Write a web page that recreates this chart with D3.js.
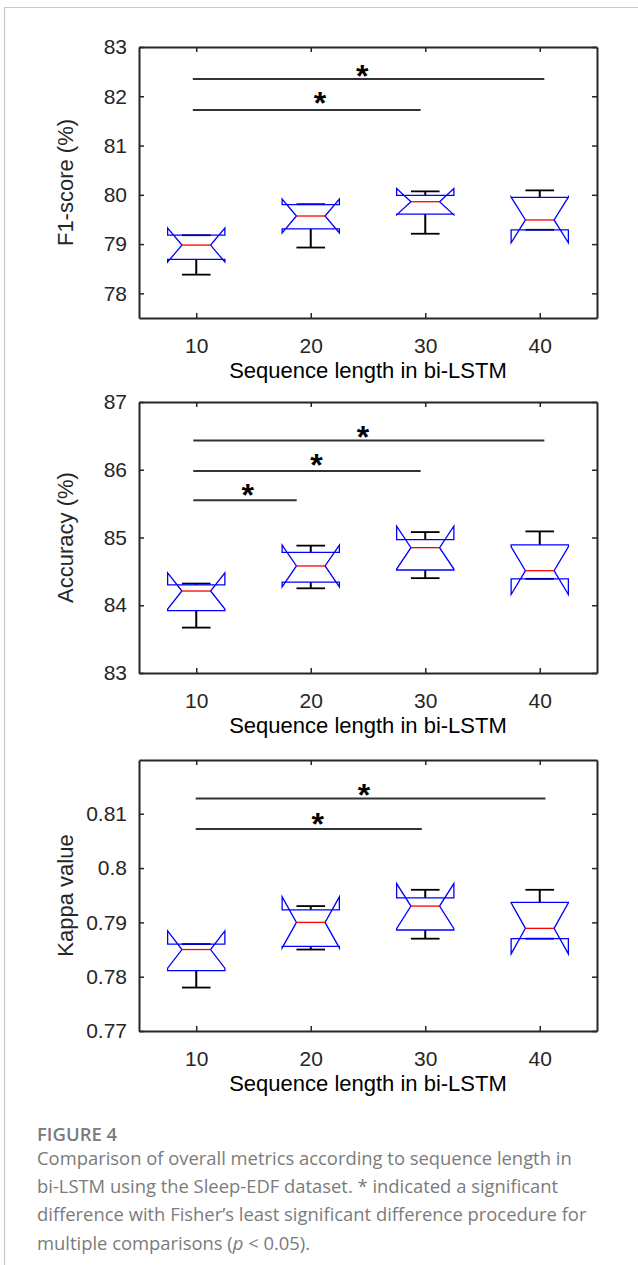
<!DOCTYPE html>
<html>
<head>
<meta charset="utf-8">
<script src="https://cdn.jsdelivr.net/npm/d3@7"></script>
<style>
  body { margin: 0; background: #fff; }
  svg { display: block; }
  .tick text { font-family: "Liberation Sans", Arial, sans-serif; font-size: 21px; fill: #262626; }
  .caption { font-family: "Open Sans", "Noto Sans", sans-serif; fill: #7b7b7b; }
</style>
</head>
<body>
<svg id="chart" width="638" height="1265"></svg>
<script>
// sequence lengths (box positions 1..4)
var categories = ["10", "20", "30", "40"];
var sampleCount = 5;   // folds per box, used for the notch width

// F1-score (%)
var f1Q1 = [78.69, 79.31, 79.61, 79.29];
var f1Median = [78.98, 79.57, 79.86, 79.49];
var f1Q3 = [79.18, 79.80, 79.99, 79.95];
var f1WhiskerLo = [78.38, 78.93, 79.21, 79.29];
var f1WhiskerHi = [79.18, 79.81, 80.07, 80.09];
var f1Ticks = [78, 79, 80, 81, 82, 83];
var f1SigFrom = [0.97, 0.97];
var f1SigTo = [4.04, 2.96];
var f1SigLevel = [82.35, 81.72];
var f1StarX = [2.45, 2.08];
var f1StarY = [82.56, 82.0];

// Accuracy (%)
var accQ1 = [83.92, 84.34, 84.52, 84.39];
var accMedian = [84.21, 84.58, 84.85, 84.51];
var accQ3 = [84.30, 84.78, 84.97, 84.89];
var accWhiskerLo = [83.67, 84.25, 84.40, 84.39];
var accWhiskerHi = [84.32, 84.88, 85.08, 85.09];
var accTicks = [83, 84, 85, 86, 87];
var accSigFrom = [0.974, 0.974, 0.974];
var accSigTo = [4.04, 2.96, 1.877];
var accSigLevel = [86.43, 85.98, 85.55];
var accStarX = [2.456, 2.05, 1.45];
var accStarY = [86.59, 86.17, 85.73];

// Kappa value
var kapQ1 = [0.7811, 0.7856, 0.7886, 0.7870];
var kapMedian = [0.7850, 0.7900, 0.7930, 0.7889];
var kapQ3 = [0.7860, 0.7923, 0.7945, 0.7937];
var kapWhiskerLo = [0.7780, 0.7850, 0.7870, 0.7870];
var kapWhiskerHi = [0.7860, 0.7930, 0.7960, 0.7960];
var kapTicks = [0.77, 0.78, 0.79, 0.8, 0.81];
var kapSigFrom = [0.995, 0.995];
var kapSigTo = [4.05, 2.97];
var kapSigLevel = [0.8128, 0.8072];
var kapStarX = [2.465, 2.06];
var kapStarY = [0.8148, 0.8094];

var captionLines = [
  "Comparison of overall metrics according to sequence length in",
  "bi-LSTM using the Sleep-EDF dataset. * indicated a significant",
  "difference with Fisher\u2019s least significant difference procedure for"
];

var svg = d3.select("#chart");

// card border
svg.append("path")
  .attr("d", "M4.5,1265V7.5H638")
  .attr("fill", "none")
  .attr("stroke", "#c9c9c9")
  .attr("stroke-width", 1.2);

var panels = [
  { top: 47, domain: [77.5, 83], ticks: f1Ticks, label: "F1-score (%)",
    q1: f1Q1, med: f1Median, q3: f1Q3, lo: f1WhiskerLo, hi: f1WhiskerHi,
    sigFrom: f1SigFrom, sigTo: f1SigTo, sigLevel: f1SigLevel, starX: f1StarX, starY: f1StarY },
  { top: 402, domain: [83, 87], ticks: accTicks, label: "Accuracy (%)",
    q1: accQ1, med: accMedian, q3: accQ3, lo: accWhiskerLo, hi: accWhiskerHi,
    sigFrom: accSigFrom, sigTo: accSigTo, sigLevel: accSigLevel, starX: accStarX, starY: accStarY },
  { top: 760, domain: [0.77, 0.8199], ticks: kapTicks, label: "Kappa value",
    q1: kapQ1, med: kapMedian, q3: kapQ3, lo: kapWhiskerLo, hi: kapWhiskerHi,
    sigFrom: kapSigFrom, sigTo: kapSigTo, sigLevel: kapSigLevel, starX: kapStarX, starY: kapStarY }
];

var left = 139, right = 597, plotH = 271;
var boxHalf = 0.25;

var x = d3.scaleLinear().domain([0.5, 4.5]).range([left, right]);
var positions = categories.map(function (c, i) { return i + 1; });

panels.forEach(function (p) {
  var y = d3.scaleLinear().domain(p.domain).range([p.top + plotH, p.top]);
  var g = svg.append("g");

  // axes, ticks pointing inward on all four sides
  var axes = [
    { ax: d3.axisBottom(x).tickValues(positions).tickFormat(function (d) { return categories[d - 1]; }).tickPadding(20), t: "translate(0," + (p.top + plotH) + ")" },
    { ax: d3.axisTop(x).tickValues(positions).tickFormat(""), t: "translate(0," + p.top + ")" },
    { ax: d3.axisLeft(y).tickValues(p.ticks).tickFormat(d3.format("")).tickPadding(12), t: "translate(" + left + ",0)" },
    { ax: d3.axisRight(y).tickValues(p.ticks).tickFormat(""), t: "translate(" + right + ",0)" }
  ];
  axes.forEach(function (a) {
    var ag = g.append("g").attr("transform", a.t)
      .call(a.ax.tickSizeInner(-5).tickSizeOuter(0));
    ag.select(".domain").attr("stroke", "#262626").attr("stroke-width", 2);
    ag.selectAll(".tick line").attr("stroke", "#262626").attr("stroke-width", 1.5);
  });

  // y label
  g.append("text")
    .attr("transform", "translate(73," + (p.top + plotH / 2) + ") rotate(-90)")
    .attr("text-anchor", "middle")
    .style("font-family", "'Liberation Sans', Arial, sans-serif")
    .style("font-size", "22px")
    .attr("fill", "#262626")
    .text(p.label);

  // x label
  g.append("text")
    .attr("x", (left + right) / 2)
    .attr("y", p.top + plotH + 60)
    .attr("text-anchor", "middle")
    .style("font-family", "'Liberation Sans', Arial, sans-serif")
    .style("font-size", "22px")
    .attr("fill", "#000")
    .text("Sequence length in bi-LSTM");

  // boxes
  positions.forEach(function (pos, i) {
    var q1 = p.q1[i], q3 = p.q3[i], med = p.med[i];
    var notch = 1.57 * (q3 - q1) / Math.sqrt(sampleCount);
    var nLo = med - notch, nHi = med + notch;
    var xl = x(pos - boxHalf), xr = x(pos + boxHalf);
    var il = x(pos - boxHalf / 2), ir = x(pos + boxHalf / 2);
    var xc = x(pos);

    // whiskers
    [[q1, p.lo[i]], [q3, p.hi[i]]].forEach(function (w) {
      if (w[0] !== w[1]) {
        g.append("line")
          .attr("x1", xc).attr("x2", xc)
          .attr("y1", y(w[0])).attr("y2", y(w[1]))
          .attr("stroke", "#000").attr("stroke-width", 2);
      }
      g.append("line")
        .attr("x1", il).attr("x2", ir)
        .attr("y1", y(w[1])).attr("y2", y(w[1]))
        .attr("stroke", "#000").attr("stroke-width", 1.8);
    });

    var pts = [
      [xl, y(q1)], [xl, y(nLo)], [il, y(med)], [xl, y(nHi)], [xl, y(q3)],
      [xr, y(q3)], [xr, y(nHi)], [ir, y(med)], [xr, y(nLo)], [xr, y(q1)]
    ];
    g.append("path")
      .attr("d", d3.line()(pts) + "Z")
      .attr("fill", "none")
      .attr("stroke", "#0000ff")
      .attr("stroke-width", 1.3);

    g.append("line")
      .attr("x1", il).attr("x2", ir)
      .attr("y1", y(med)).attr("y2", y(med))
      .attr("stroke", "#ff0000").attr("stroke-width", 1.3);
  });

  // significance bars
  p.sigLevel.forEach(function (lv, j) {
    g.append("line")
      .attr("x1", x(p.sigFrom[j])).attr("x2", x(p.sigTo[j]))
      .attr("y1", y(lv)).attr("y2", y(lv))
      .attr("stroke", "#333").attr("stroke-width", 2);
    g.append("text")
      .attr("x", x(p.starX[j]))
      .attr("y", y(p.starY[j]) + 18)
      .attr("text-anchor", "middle")
      .style("font-family", "'Liberation Sans', Arial, sans-serif")
      .style("font-size", "32px")
      .style("font-weight", "bold")
      .attr("fill", "#000")
      .text("*");
  });
});

// caption
svg.append("text")
  .attr("class", "caption")
  .attr("x", 37).attr("y", 1141)
  .style("font-size", "18.5px")
  .style("font-weight", "600")
  .attr("fill", "#6f6f6f")
  .text("FIGURE 4");

captionLines.forEach(function (line, k) {
  svg.append("text")
    .attr("class", "caption")
    .attr("x", 37).attr("y", 1165 + k * 28.2)
    .style("font-size", "18.4px")
    .text(line);
});
var last = svg.append("text")
  .attr("class", "caption")
  .attr("x", 37).attr("y", 1165 + 3 * 28.2)
  .style("font-size", "18.4px");
last.append("tspan").text("multiple comparisons (");
last.append("tspan").style("font-style", "italic").text("p");
last.append("tspan").text(" < 0.05).");
</script>
</body>
</html>
